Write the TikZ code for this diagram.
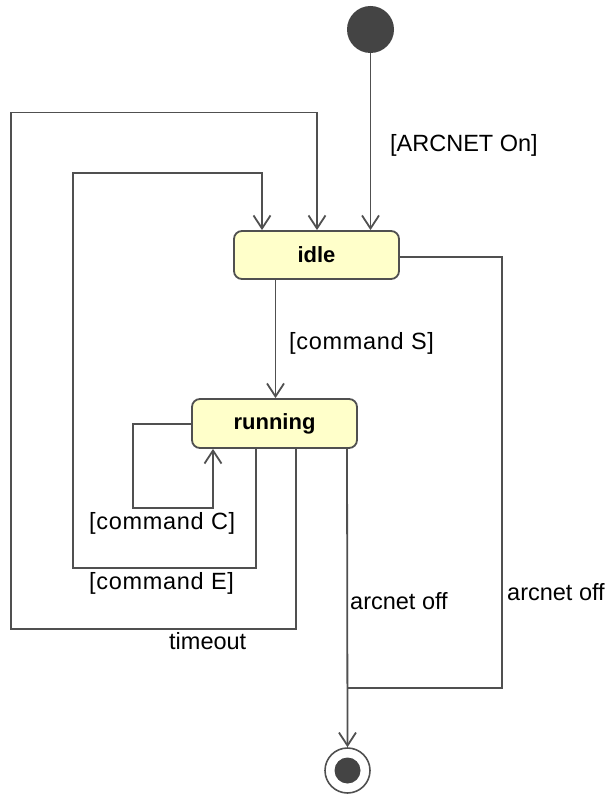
\documentclass[tikz,border=0pt]{standalone}
\usepackage{fontspec}
\setmainfont{Liberation Sans}
\newfontfamily\cmdfont[LetterSpace=3]{Liberation Sans}
\usetikzlibrary{arrows.meta}

\definecolor{wire}{RGB}{80,80,80}
\definecolor{statefill}{RGB}{255,255,202}
\definecolor{dot}{RGB}{68,68,68}

\tikzset{
  statebox/.style={draw=wire, line width=1.8pt, fill=statefill, rounded corners=8pt,
    minimum width=165pt, inner sep=0pt, font=\fontsize{22}{26}\selectfont\bfseries},
  trans/.style={draw=wire, line width=1.8pt,
    -{Straight Barb[length=13pt,width=17pt,line width=1.8pt]}},
  plain/.style={draw=wire, line width=1.8pt},
  lbl/.style={anchor=base west, inner sep=0pt, font=\fontsize{23.5}{28}\selectfont},
  cmdlbl/.style={lbl, font=\cmdfont\fontsize{23.5}{28}\selectfont}
}

\begin{document}
\begin{tikzpicture}[x=1pt,y=-1pt]
  \useasboundingbox (0,0) rectangle (611,794);

  % states
  \node[circle, fill=dot, minimum size=47pt, inner sep=0pt] (init) at (370.5,29.5) {};
  \node[statebox, minimum height=48pt] (idle) at (316.5,255) {idle};
  \node[statebox, minimum height=49pt] (run) at (274.5,423.5) {running};
  \node[circle, draw=wire, line width=1.6pt, minimum size=45pt, inner sep=0pt] (final) at (347.5,770.5) {};
  \fill[dot] (final.center) circle (13pt);

  % bend points
  \coordinate (cLeft) at (133,424);
  \coordinate (cBotL) at (133,508);
  \coordinate (cBotR) at (213,508);
  \coordinate (eBotR) at (256,568);
  \coordinate (eBotL) at (73,568);
  \coordinate (eTopL) at (73,173);
  \coordinate (eTopR) at (262,173);
  \coordinate (tBotR) at (296,629);
  \coordinate (tBotL) at (11,629);
  \coordinate (tTopL) at (11,112.5);
  \coordinate (tTopR) at (317,112.5);
  \coordinate (offX) at (347,448);
  \coordinate (oRight) at (502,257);
  \coordinate (oBotR) at (502,688);
  \coordinate (oBotL) at (347,688);

  % transitions
  \draw[trans] (init) -- (idle.north -| init);
  \draw[trans] (idle.south -| 275.5,0) -- (run.north -| 275.5,0);
  \draw[trans] (run.west |- cLeft) -- (cLeft) -- (cBotL) -- (cBotR) -- (run.south -| cBotR);
  \draw[trans] (run.south -| eBotR) -- (eBotR) -- (eBotL) -- (eTopL) -- (eTopR) -- (idle.north -| eTopR);
  \draw[trans] (run.south -| tBotR) -- (tBotR) -- (tBotL) -- (tTopL) -- (tTopR) -- (idle.north -| tTopR);
  \draw[trans] (offX) -- (final.north);
  \draw[plain] (idle.east |- oRight) -- (oRight) -- (oBotR) -- (oBotL);

  % labels
  \node[lbl] (lOn) at (390,152) {[ARCNET On]};
  \node[cmdlbl] (lS) at (289,349) {[command S]};
  \node[cmdlbl] (lC) at (89,529) {[command C]};
  \node[cmdlbl] (lE) at (89,589) {[command E]};
  \node[lbl] (lT) at (169,649) {timeout};
  \node[lbl] (lOff1) at (350,609) {arcnet off};
  \node[lbl] (lOff2) at (507,600) {arcnet off};
\end{tikzpicture}
\end{document}
